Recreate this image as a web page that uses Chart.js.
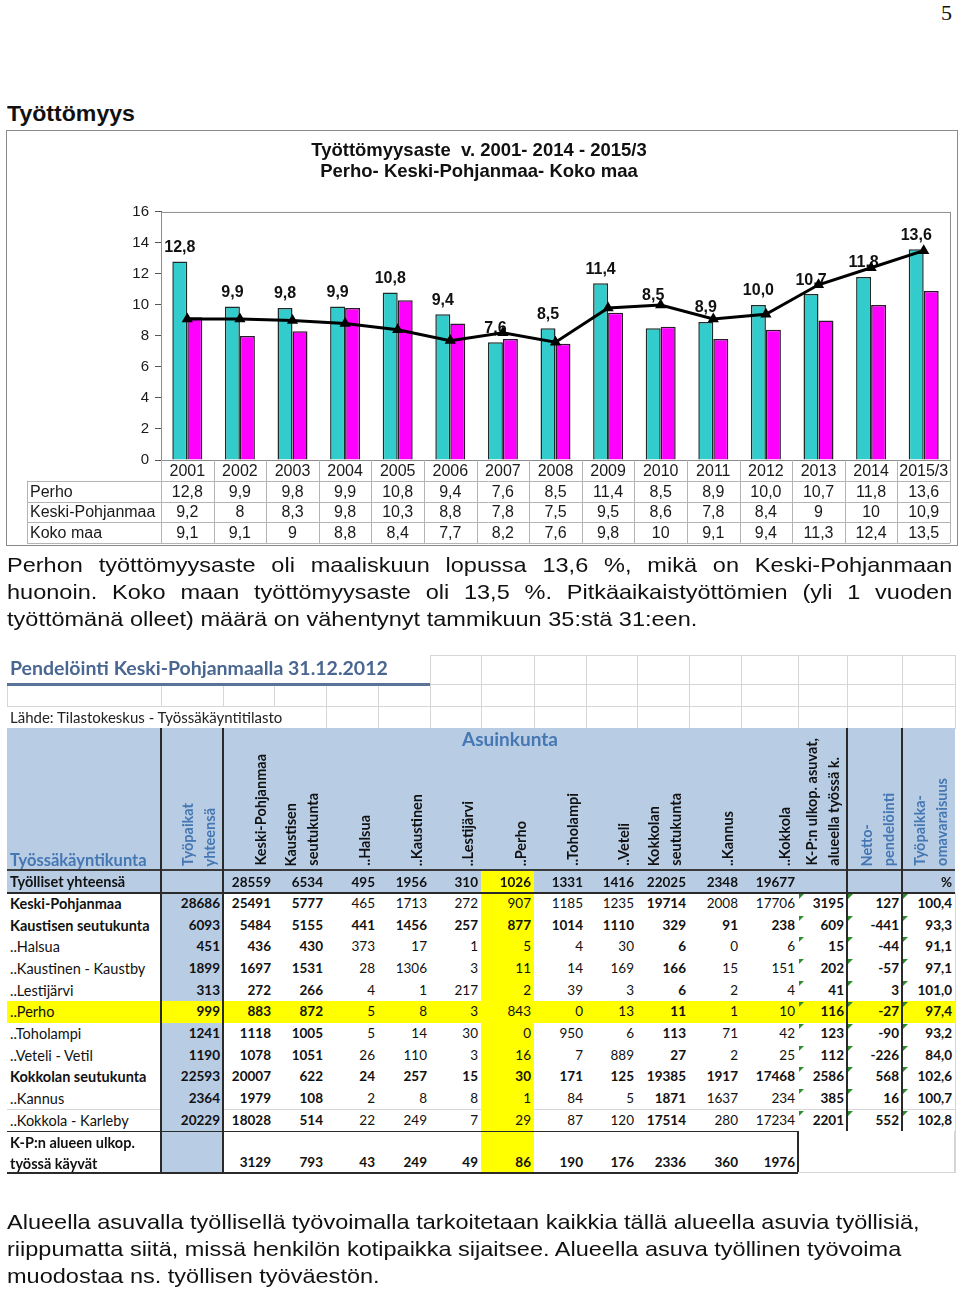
<!DOCTYPE html>
<html lang="fi">
<head>
<meta charset="utf-8">
<title>Työttömyys</title>
<script src="https://cdn.jsdelivr.net/npm/chart.js@4.4.1/dist/chart.umd.min.js"></script>
<style>
  html, body { margin: 0; padding: 0; background: #fff; }
  body { width: 960px; height: 1291px; position: relative; overflow: hidden; font-family: "Liberation Sans", Arial, sans-serif; color: #111; }
  #pageNo { position: absolute; right: 8px; top: 0; font: 22px "Liberation Serif", serif; }
  h1 { position: absolute; left: 7px; top: 101px; margin: 0; font: bold 22px "Liberation Sans", Arial, sans-serif; transform: scaleX(1.05); transform-origin: 0 0; }
  #chartBox { position: absolute; left: 7px; top: 131px; width: 950px; height: 414px; outline: 1.5px solid #8a8a8a; }
  .para { position: absolute; left: 7px; width: 844px; font-size: 21px; line-height: 27px; margin: 0; transform: scaleX(1.12); transform-origin: 0 0; white-space: nowrap; }
  .para .j { text-align: justify; text-align-last: justify; white-space: normal; }
  #p1 { top: 551px; }
  #p2 { top: 1208px; }
  #excel { position: absolute; left: 0; top: 0; width: 960px; height: 1291px; font-family: Lato, "Open Sans", sans-serif; font-size: 13.5px; color: #111; }
  #excel div { position: absolute; box-sizing: border-box; }
  .cellv { text-align: right; padding-right: 3px; white-space: nowrap; }
  .vhead { display: flex; flex-direction: row; justify-content: flex-end; align-items: flex-end; padding: 0 2px 4px 0; font-weight: bold; font-size: 14.5px; }
  .vhead span { writing-mode: vertical-rl; transform: rotate(180deg); line-height: 22px; white-space: nowrap; }
</style>
</head>
<body>
<div id="pageNo">5</div>
<h1>Työttömyys</h1>
<div id="chartBox"><canvas id="unempChart" width="950" height="414"></canvas></div>
<div class="para" id="p1">
  <div class="j">Perhon työttömyysaste oli maaliskuun lopussa 13,6 %, mikä on Keski-Pohjanmaan</div>
  <div class="j">huonoin. Koko maan työttömyysaste oli 13,5 %. Pitkäaikaistyöttömien (yli 1 vuoden</div>
  <div>työttömänä olleet) määrä on vähentynyt tammikuun 35:stä 31:een.</div>
</div>
<div id="excel"></div>
<div class="para" id="p2">Alueella asuvalla työllisellä työvoimalla tarkoitetaan kaikkia tällä alueella asuvia työllisiä,<br>riippumatta siitä, missä henkilön kotipaikka sijaitsee. Alueella asuva työllinen työvoima<br>muodostaa ns. työllisen työväestön.</div>

<script>
// unemployment rate, %
const years = ['2001', '2002', '2003', '2004', '2005', '2006', '2007', '2008', '2009', '2010', '2011', '2012', '2013', '2014', '2015/3'];
const perho = [12.8, 9.9, 9.8, 9.9, 10.8, 9.4, 7.6, 8.5, 11.4, 8.5, 8.9, 10.0, 10.7, 11.8, 13.6];
const keskiPohjanmaa = [9.2, 8, 8.3, 9.8, 10.3, 8.8, 7.8, 7.5, 9.5, 8.6, 7.8, 8.4, 9, 10, 10.9];
const kokoMaa = [9.1, 9.1, 9, 8.8, 8.4, 7.7, 8.2, 7.6, 9.8, 10, 9.1, 9.4, 11.3, 12.4, 13.5];
const seriesNames = ['Perho', 'Keski-Pohjanmaa', 'Koko maa'];
const yTicks = [0, 2, 4, 6, 8, 10, 12, 14, 16];

// commuting table (Pendelöinti Keski-Pohjanmaalla 31.12.2012)
const commuteHeads = [['Työpaikat', 'yhteensä'], ['Keski-Pohjanmaa'], ['Kaustisen', 'seutukunta'], ['..Halsua'], ['..Kaustinen'], ['..Lestijärvi'], ['..Perho'], ['..Toholampi'], ['..Veteli'], ['Kokkolan', 'seutukunta'], ['..Kannus'], ['..Kokkola'], ['K-P:n ulkop. asuvat,', 'alueella työssä k.'], ['Netto-', 'pendelöinti'], ['Työpaikka-', 'omavaraisuus']];
const employedTotal = ['', '28559', '6534', '495', '1956', '310', '1026', '1331', '1416', '22025', '2348', '19677', '', '', '%'];
const commuteRows = ['Keski-Pohjanmaa', 'Kaustisen seutukunta', '..Halsua', '..Kaustinen - Kaustby', '..Lestijärvi', '..Perho', '..Toholampi', '..Veteli - Vetil', 'Kokkolan seutukunta', '..Kannus', '..Kokkola - Karleby'];
const commuteValues = [
  ['28686', '25491', '5777', '465', '1713', '272', '907', '1185', '1235', '19714', '2008', '17706', '3195', '127', '100,4'],
  ['6093', '5484', '5155', '441', '1456', '257', '877', '1014', '1110', '329', '91', '238', '609', '-441', '93,3'],
  ['451', '436', '430', '373', '17', '1', '5', '4', '30', '6', '0', '6', '15', '-44', '91,1'],
  ['1899', '1697', '1531', '28', '1306', '3', '11', '14', '169', '166', '15', '151', '202', '-57', '97,1'],
  ['313', '272', '266', '4', '1', '217', '2', '39', '3', '6', '2', '4', '41', '3', '101,0'],
  ['999', '883', '872', '5', '8', '3', '843', '0', '13', '11', '1', '10', '116', '-27', '97,4'],
  ['1241', '1118', '1005', '5', '14', '30', '0', '950', '6', '113', '71', '42', '123', '-90', '93,2'],
  ['1190', '1078', '1051', '26', '110', '3', '16', '7', '889', '27', '2', '25', '112', '-226', '84,0'],
  ['22593', '20007', '622', '24', '257', '15', '30', '171', '125', '19385', '1917', '17468', '2586', '568', '102,6'],
  ['2364', '1979', '108', '2', '8', '8', '1', '84', '5', '1871', '1637', '234', '385', '16', '100,7'],
  ['20229', '18028', '514', '22', '249', '7', '29', '87', '120', '17514', '280', '17234', '2201', '552', '102,8']
];
const outsideWorkers = ['', '3129', '793', '43', '249', '49', '86', '190', '176', '2336', '360', '1976', '', '', ''];

const fmt1 = v => v.toFixed(1).replace('.', ',');
const fmt = v => String(v).replace('.', ',');
const FONT = '"Liberation Sans", Arial, sans-serif';

// --- plugins ---
const plotBorder = {
  id: 'plotBorder',
  beforeDatasetsDraw(chart) {
    const { ctx, chartArea: a } = chart;
    ctx.save();
    ctx.strokeStyle = '#8c8c8c';
    ctx.lineWidth = 1;
    ctx.strokeRect(a.left + 0.5, a.top + 0.5, a.right - a.left, a.bottom - a.top);
    ctx.restore();
  }
};

// Perho values above the cyan bars (drawn before the Koko maa line)
const valueLabels = {
  id: 'valueLabels',
  afterDatasetDraw(chart, args, opts) {
    if (args.index !== 0) return;
    const ctx = chart.ctx;
    const bars = chart.getDatasetMeta(0).data;
    ctx.save();
    ctx.font = 'bold 16px ' + FONT;
    ctx.fillStyle = '#111';
    ctx.textAlign = 'center';
    ctx.textBaseline = 'middle';
    bars.forEach((bar, i) => {
      const lift = (opts.extraLift && opts.extraLift[i]) || 0;
      ctx.fillText(fmt1(perho[i]), bar.x, bar.y - 14 - lift);
    });
    ctx.restore();
  }
};

const dataTable = {
  id: 'dataTable',
  afterDraw(chart) {
    const { ctx, chartArea: a, scales: { x } } = chart;
    const top = a.bottom;
    const rowH = 20.8;
    const labelLeft = 20;
    const colW = x.getPixelForValue(1) - x.getPixelForValue(0);
    const line = (x1, y1, x2, y2) => { ctx.beginPath(); ctx.moveTo(x1, y1); ctx.lineTo(x2, y2); ctx.stroke(); };
    ctx.save();
    ctx.strokeStyle = '#b4b4b4';
    ctx.lineWidth = 1;
    for (let r = 1; r <= 4; r++) {
      const y = Math.round(top + r * rowH) + 0.5;
      line(labelLeft, y, a.right, y);
    }
    for (let k = 0; k <= years.length; k++) {
      const xx = Math.round(a.left + k * colW) + 0.5;
      line(xx, top, xx, top + 4 * rowH);
    }
    line(labelLeft + 0.5, top + rowH, labelLeft + 0.5, top + 4 * rowH);

    ctx.fillStyle = '#1a1a1a';
    ctx.font = '16px ' + FONT;
    ctx.textBaseline = 'middle';
    ctx.textAlign = 'center';
    years.forEach((yr, i) => ctx.fillText(yr, x.getPixelForValue(i), top + rowH / 2 + 1));
    const rows = [perho.map(fmt1), keskiPohjanmaa.map(fmt), kokoMaa.map(fmt)];
    rows.forEach((vals, r) => {
      const y = top + (r + 1.5) * rowH + 1;
      ctx.textAlign = 'left';
      ctx.fillText(seriesNames[r], labelLeft + 3, y);
      ctx.textAlign = 'center';
      vals.forEach((v, i) => ctx.fillText(v, x.getPixelForValue(i), y));
    });
    ctx.restore();
  }
};

new Chart(document.getElementById('unempChart').getContext('2d'), {
  type: 'bar',
  data: {
    labels: years,
    datasets: [{
      label: seriesNames[0],
      data: perho,
      backgroundColor: '#33CCCC',
      borderColor: '#1e2b2b',
      borderWidth: 1.5,
      categoryPercentage: 0.57,
      barPercentage: 1,
      order: 1
    }, {
      label: seriesNames[1],
      data: keskiPohjanmaa,
      backgroundColor: '#FF00FF',
      borderColor: '#2a1a2a',
      borderWidth: 1.5,
      categoryPercentage: 0.57,
      barPercentage: 1,
      order: 2
    }, {
      type: 'line',
      label: seriesNames[2],
      data: kokoMaa,
      borderColor: '#000',
      borderWidth: 3,
      pointStyle: 'triangle',
      pointRadius: 3.5,
      pointBackgroundColor: '#000',
      pointBorderColor: '#000',
      tension: 0,
      order: 0
    }]
  },
  options: {
    responsive: false,
    animation: false,
    devicePixelRatio: 1,
    layout: { padding: { left: 0, right: 6, top: 0, bottom: 85 } },
    plugins: {
      legend: { display: false },
      tooltip: { enabled: false },
      title: {
        display: true,
        text: ['Työttömyysaste  v. 2001- 2014 - 2015/3', 'Perho- Keski-Pohjanmaa- Koko maa'],
        color: '#111',
        font: { family: FONT, size: 18.5, weight: 'bold', lineHeight: 1.16 },
        padding: { top: 9, bottom: 29 }
      },
      valueLabels: { extraLift: { 9: 19 } }
    },
    scales: {
      x: { display: false },
      y: {
        min: 0,
        max: 16,
        afterBuildTicks: s => { s.ticks = yTicks.map(v => ({ value: v })); },
        ticks: { color: '#1a1a1a', font: { family: FONT, size: 15 }, padding: 6 },
        grid: { drawOnChartArea: false, drawTicks: true, tickLength: 6, color: '#555' },
        border: { color: '#666', width: 1 },
        afterFit: s => { s.width = 154; }
      }
    }
  },
  plugins: [plotBorder, valueLabels, dataTable]
});

// --- commuting table built from the arrays above ---
(function buildExcel() {
  const host = document.getElementById('excel');
  const colX = [7, 161, 223, 274, 326, 378, 430, 481, 534, 586, 637, 689, 741, 798, 847, 902, 955];
  const BLUE = '#B8CCE4', YELLOW = '#FFFF00', GRID = '#d6d6d6', DARK = '#2a2a2a';
  const boldCols = [0, 1, 2, 9, 12, 13, 14];
  const rowStyle = ['label', 'all', 'none', 'none', 'none', 'none', 'none', 'none', 'all', 'none', 'none'];
  const perhoRow = 5, perhoCol = 6;

  function box(x, y, w, h, css, text) {
    const d = document.createElement('div');
    d.style.left = x + 'px'; d.style.top = y + 'px';
    d.style.width = w + 'px'; d.style.height = h + 'px';
    Object.assign(d.style, css || {});
    if (text !== undefined) d.textContent = text;
    host.appendChild(d);
    return d;
  }
  const hline = (x1, x2, y, c, t) => box(x1, y, x2 - x1, t, { background: c });
  const vline = (x, y1, y2, c, t) => box(x, y1, t, y2 - y1, { background: c });

  // blank sheet grid above the table
  const topRows = [655, 684, 706, 728];
  for (let r = 0; r < 3; r++) {
    for (let c = 0; c < 16; c++) {
      if (r === 0 && colX[c + 1] <= 430) continue;
      if (r === 2 && colX[c + 1] <= 326) continue;
      box(colX[c], topRows[r], colX[c + 1] - colX[c] + 1, topRows[r + 1] - topRows[r] + 1, { border: '1px solid ' + GRID });
    }
  }
  box(10, 656, 420, 28, { font: 'bold 19.5px Lato, sans-serif', color: '#4a6791', whiteSpace: 'nowrap' }, 'Pendelöinti Keski-Pohjanmaalla 31.12.2012');
  hline(7, 430, 683, '#5a7499', 3);
  box(10, 708, 320, 20, { fontSize: '15px', whiteSpace: 'nowrap', color: '#222' }, 'Lähde: Tilastokeskus - Työssäkäyntitilasto');

  // header block
  box(7, 728, 948, 165, { background: BLUE });
  box(462, 727, 130, 24, { font: 'bold 19px Lato, sans-serif', color: '#4577b3' }, 'Asuinkunta');
  box(10, 850, 150, 22, { font: 'bold 16.5px Lato, sans-serif', color: '#4577b3', whiteSpace: 'nowrap' }, 'Työssäkäyntikunta');
  commuteHeads.forEach((lines, c) => {
    const d = box(colX[c + 1], 730, colX[c + 2] - colX[c + 1], 140, {}, undefined);
    d.className = 'vhead';
    if (c === 0 || c >= 13) d.style.color = '#4577b3';
    lines.forEach(t => { const s = document.createElement('span'); s.textContent = t; d.appendChild(s); });
  });
  // employed total row
  box(10, 870, 150, 23, { fontWeight: 'bold', lineHeight: '24px', fontSize: '14.5px', whiteSpace: 'nowrap' }, 'Työlliset yhteensä');
  employedTotal.forEach((v, c) => {
    const css = { fontWeight: 'bold', lineHeight: '24px' };
    if (c === perhoCol) css.background = YELLOW;
    const d = box(colX[c + 1], 870, colX[c + 2] - colX[c + 1], 23, css, v);
    d.className = 'cellv';
  });

  // data rows
  const rowH = 21.65, y0 = 893;
  commuteRows.forEach((name, r) => {
    const y = y0 + r * rowH;
    const rowBg = r === perhoRow ? YELLOW : null;
    box(7, y, 154, rowH + 1, { background: rowBg || '#fff', borderBottom: '1px solid ' + (rowBg ? YELLOW : GRID), borderRight: '1px solid ' + GRID, paddingLeft: '3px', lineHeight: rowH + 'px', fontSize: '14.5px', whiteSpace: 'nowrap', fontWeight: rowStyle[r] !== 'none' ? 'bold' : 'normal' }, name);
    commuteValues[r].forEach((v, c) => {
      const bg = rowBg || (c === 0 ? BLUE : c === perhoCol ? YELLOW : '#fff');
      const bold = rowStyle[r] === 'all' || boldCols.includes(c);
      const bc = bg === '#fff' ? GRID : bg;
      const d = box(colX[c + 1], y, colX[c + 2] - colX[c + 1] + 1, rowH + 1, { background: bg, borderBottom: '1px solid ' + bc, borderRight: '1px solid ' + bc, lineHeight: rowH + 'px', fontWeight: bold ? 'bold' : 'normal' }, v);
      d.className = 'cellv';
      if (c >= 12) box(colX[c + 1] + 1, y + 1, 5, 5, { width: 0, height: 0, borderTop: '5px solid #2e8b2e', borderRight: '5px solid transparent' });
    });
  });
  // outside-area workers row
  const yl = y0 + commuteRows.length * rowH;
  box(10, yl + 1, 150, 42, { fontWeight: 'bold', lineHeight: '21px', fontSize: '14.5px' }).innerHTML = 'K-P:n alueen ulkop.<br>työssä käyvät';
  outsideWorkers.forEach((v, c) => {
    const bg = c === 0 ? BLUE : c === perhoCol ? YELLOW : '#fff';
    const d = box(colX[c + 1], yl, colX[c + 2] - colX[c + 1] + 1, 1173 - yl, { background: bg, borderRight: '1px solid ' + (bg === '#fff' ? GRID : bg), fontWeight: 'bold', paddingTop: '21px', lineHeight: '21px' }, v);
    d.className = 'cellv';
  });

  // heavy rules
  hline(7, 955, 869, '#3a3a3a', 2);
  hline(7, 955, 892, DARK, 1.5);
  hline(7, 798, yl - 0.5, DARK, 1.5);
  hline(7, 798, 1172, DARK, 1.5);
  vline(160, 728, 1173, DARK, 1.5);
  vline(222, 728, 1173, DARK, 1.5);
  vline(797, yl, 1173, DARK, 1.5);
  vline(846, 728, yl, DARK, 1.5);
  vline(901, 728, yl, DARK, 1.5);
  vline(954, yl, 1173, GRID, 1);
  hline(798, 955, 1172, GRID, 1);
})();
</script>
</body>
</html>
